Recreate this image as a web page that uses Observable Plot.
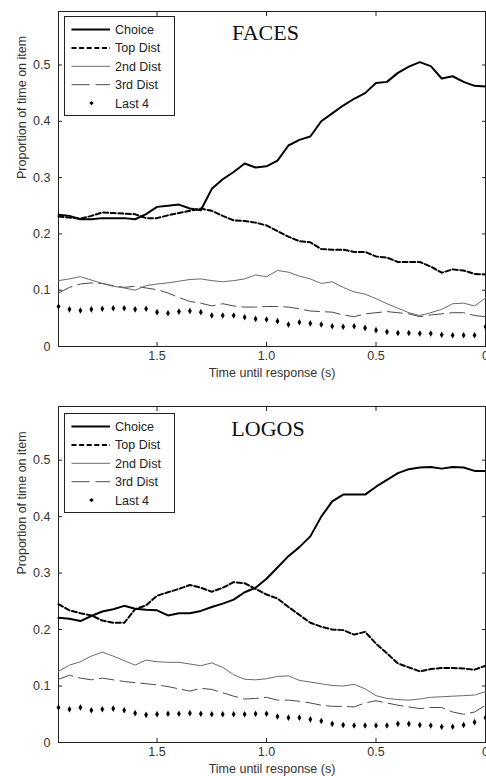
<!DOCTYPE html>
<html>
<head>
<meta charset="utf-8">
<script src="https://cdn.jsdelivr.net/npm/d3@7"></script>
<script src="https://cdn.jsdelivr.net/npm/@observablehq/plot@0.6"></script>
<style>
  body { margin: 0; background: #fff; width: 486px; overflow: hidden; }
  .panel { position: relative; }
  .legend { position: absolute; }
</style>
</head>
<body>
<div id="root"></div>
<script>
// ---- data ----
const times = [1.95, 1.90, 1.85, 1.80, 1.75, 1.70, 1.65, 1.60, 1.55, 1.50,
               1.45, 1.40, 1.35, 1.30, 1.25, 1.20, 1.15, 1.10, 1.05, 1.00,
               0.95, 0.90, 0.85, 0.80, 0.75, 0.70, 0.65, 0.60, 0.55, 0.50,
               0.45, 0.40, 0.35, 0.30, 0.25, 0.20, 0.15, 0.10, 0.05, 0.00];

const seriesNames = ["Choice", "Top Dist", "2nd Dist", "3rd Dist", "Last 4"];
const xTicks = [1.5, 1.0, 0.5, 0];
const yTicks = [0, 0.1, 0.2, 0.3, 0.4, 0.5];
const panelTitles = ["FACES", "LOGOS"];
const xLabel = "Time until response (s)";
const yLabel = "Proportion of time on item";

const facesChoice = [0.234,0.232,0.226,0.226,0.228,0.228,0.228,0.226,0.235,0.248,0.25,0.252,0.245,0.242,0.28,0.297,0.31,0.325,0.318,0.32,0.33,0.357,0.367,0.373,0.4,0.414,0.428,0.44,0.45,0.468,0.47,0.486,0.497,0.505,0.498,0.476,0.48,0.47,0.463,0.462];
const facesTop    = [0.231,0.229,0.227,0.232,0.238,0.237,0.236,0.235,0.228,0.228,0.233,0.237,0.241,0.245,0.241,0.232,0.224,0.223,0.22,0.215,0.205,0.195,0.187,0.185,0.173,0.172,0.172,0.168,0.168,0.16,0.158,0.15,0.15,0.15,0.142,0.131,0.137,0.135,0.129,0.128];
const facesSecond = [0.117,0.12,0.124,0.118,0.112,0.107,0.104,0.10,0.108,0.111,0.113,0.116,0.119,0.12,0.117,0.115,0.117,0.12,0.127,0.124,0.135,0.132,0.125,0.12,0.112,0.115,0.105,0.097,0.093,0.085,0.076,0.068,0.06,0.055,0.06,0.066,0.076,0.077,0.072,0.086];
const facesThird  = [0.095,0.105,0.111,0.113,0.112,0.108,0.105,0.107,0.104,0.101,0.095,0.087,0.08,0.077,0.072,0.076,0.072,0.07,0.07,0.071,0.071,0.07,0.067,0.063,0.062,0.061,0.056,0.053,0.058,0.06,0.062,0.06,0.058,0.053,0.056,0.058,0.06,0.06,0.055,0.053];
const facesLast   = [0.071,0.066,0.064,0.066,0.067,0.068,0.068,0.066,0.067,0.061,0.059,0.062,0.063,0.061,0.055,0.055,0.055,0.052,0.049,0.048,0.045,0.039,0.043,0.041,0.039,0.036,0.035,0.036,0.033,0.029,0.026,0.024,0.024,0.023,0.023,0.021,0.020,0.020,0.020,0.035];

const logosChoice = [0.221,0.219,0.215,0.224,0.232,0.236,0.242,0.237,0.235,0.234,0.225,0.229,0.229,0.233,0.24,0.246,0.253,0.266,0.274,0.29,0.31,0.33,0.346,0.365,0.4,0.427,0.439,0.439,0.439,0.453,0.465,0.477,0.484,0.487,0.488,0.485,0.488,0.487,0.481,0.481];
const logosTop    = [0.245,0.234,0.229,0.225,0.216,0.212,0.212,0.236,0.243,0.26,0.266,0.272,0.279,0.274,0.267,0.274,0.284,0.282,0.272,0.262,0.255,0.24,0.226,0.212,0.205,0.2,0.199,0.191,0.196,0.175,0.158,0.14,0.133,0.126,0.13,0.132,0.132,0.131,0.129,0.136];
const logosSecond = [0.126,0.137,0.143,0.153,0.16,0.153,0.145,0.137,0.146,0.143,0.142,0.142,0.139,0.136,0.141,0.133,0.12,0.112,0.111,0.113,0.117,0.118,0.11,0.107,0.104,0.101,0.1,0.103,0.095,0.083,0.078,0.076,0.075,0.077,0.08,0.081,0.082,0.083,0.084,0.09];
const logosThird  = [0.112,0.119,0.114,0.111,0.114,0.111,0.108,0.106,0.104,0.102,0.099,0.095,0.091,0.096,0.094,0.088,0.082,0.077,0.078,0.08,0.075,0.075,0.073,0.07,0.066,0.064,0.064,0.063,0.07,0.074,0.07,0.066,0.063,0.06,0.062,0.062,0.054,0.05,0.054,0.066];
const logosLast   = [0.062,0.059,0.062,0.057,0.059,0.060,0.057,0.052,0.049,0.050,0.051,0.051,0.052,0.051,0.050,0.050,0.050,0.050,0.051,0.051,0.046,0.044,0.044,0.041,0.038,0.033,0.031,0.030,0.030,0.030,0.030,0.033,0.033,0.031,0.030,0.028,0.028,0.031,0.036,0.044];

// ---- styles ----
const FONT = "'Liberation Sans', Arial, Helvetica, sans-serif";
const lineStyles = {
  "Choice":   {stroke: "#000", strokeWidth: 2, strokeDasharray: null},
  "Top Dist": {stroke: "#000", strokeWidth: 2, strokeDasharray: "5,2.6"},
  "2nd Dist": {stroke: "#6a6a6a", strokeWidth: 1, strokeDasharray: null},
  "3rd Dist": {stroke: "#4a4a4a", strokeWidth: 1, strokeDasharray: "15,6"}
};
const fmt = d => d === 0 ? "0" : d.toFixed(1);

function buildTable(arrays) {
  const rows = [];
  seriesNames.forEach((s, i) => {
    times.forEach((t, j) => rows.push({series: s, t, v: arrays[i][j]}));
  });
  return rows;
}

function makePanel(title, arrays, layout) {
  const data = buildTable(arrays);
  const marks = [
    Plot.frame({stroke: "#222", strokeWidth: 1}),
    // tick labels
    Plot.axisX({anchor: "bottom", ticks: xTicks, tickSize: 0, tickPadding: 5, tickFormat: fmt, label: null, fontSize: 12.5, fill: "#333"}),
    Plot.axisY({anchor: "left", ticks: yTicks, tickSize: 0, tickPadding: 8, tickFormat: fmt, label: null, fontSize: 12.5, fill: "#333"}),
    // inward ticks on all four sides
    Plot.axisX({anchor: "bottom", ticks: xTicks, tickSize: 4, dy: -4, tickFormat: () => "", label: null}),
    Plot.axisX({anchor: "top", ticks: xTicks, tickSize: 4, dy: 4, tickFormat: () => "", label: null}),
    Plot.axisY({anchor: "left", ticks: yTicks, tickSize: 4, dx: 4, tickFormat: () => "", label: null}),
    Plot.axisY({anchor: "right", ticks: yTicks, tickSize: 4, dx: -4, tickFormat: () => "", label: null}),
  ];
  ["3rd Dist", "2nd Dist", "Top Dist", "Choice"].forEach(s => {
    const st = lineStyles[s];
    marks.push(Plot.line(data.filter(d => d.series === s), {
      x: "t", y: "v", stroke: st.stroke, strokeWidth: st.strokeWidth,
      strokeDasharray: st.strokeDasharray, strokeLinejoin: "round"
    }));
  });
  marks.push(Plot.dot(data.filter(d => d.series === "Last 4"), {
    x: "t", y: "v", symbol: "diamond", r: 2, fill: "#000", stroke: "none"
  }));
  marks.push(Plot.text([title], {frameAnchor: "top", text: d => d, dx: layout.titleDx, dy: layout.titleDy,
    lineAnchor: "middle", fontFamily: "'Liberation Serif', 'Times New Roman', serif", fontSize: 22, fill: "#111"}));
  marks.push(Plot.text([xLabel], {frameAnchor: "bottom", text: d => d, dy: layout.xLabelDy,
    lineAnchor: "middle", fontSize: 12.5, fill: "#333"}));
  marks.push(Plot.text([yLabel], {frameAnchor: "left", text: d => d, dx: -36.5, rotate: -90,
    lineAnchor: "middle", fontSize: 12.5, fill: "#333"}));

  const svg = Plot.plot({
    width: 486,
    height: layout.height,
    marginLeft: 58,
    marginRight: 1,
    marginTop: layout.marginTop,
    marginBottom: layout.marginBottom,
    x: {domain: [1.95, 0], range: [58, 485]},
    y: {domain: [0, 0.595]},
    style: {fontFamily: FONT, fontSize: "12.5px", color: "#222", background: "#fff", overflow: "visible"},
    marks
  });

  const wrap = document.createElement("div");
  wrap.className = "panel";
  wrap.style.width = "486px";
  wrap.style.height = layout.height + "px";
  wrap.appendChild(svg);

  // legend (inside the frame, upper left)
  const lg = d3.create("svg")
    .attr("class", "legend")
    .attr("width", 112).attr("height", 102)
    .style("left", "64px").style("top", layout.legendTop + "px")
    .style("font-family", FONT);
  lg.append("rect").attr("x", 0.5).attr("y", 0.5).attr("width", 110).attr("height", 99)
    .attr("fill", "#fff").attr("stroke", "#222");
  seriesNames.forEach((s, i) => {
    const y = 13.5 + i * 18.4;
    if (s === "Last 4") {
      lg.append("path").attr("d", d3.symbol(d3.symbolDiamond2, 12)()).attr("transform", `translate(27.5,${y})`).attr("fill", "#000");
    } else {
      const st = lineStyles[s];
      lg.append("line").attr("x1", 7.5).attr("x2", 46).attr("y1", y).attr("y2", y)
        .attr("stroke", st.stroke).attr("stroke-width", st.strokeWidth)
        .attr("stroke-dasharray", s === "3rd Dist" ? "18,6" : st.strokeDasharray);
    }
    lg.append("text").attr("x", 51).attr("y", y).attr("dy", "0.36em")
      .attr("font-size", 12.5).attr("fill", "#222").text(s);
  });
  wrap.appendChild(lg.node());
  return wrap;
}

const root = document.getElementById("root");
root.appendChild(makePanel(panelTitles[0],
  [facesChoice, facesTop, facesSecond, facesThird, facesLast],
  {height: 390, marginTop: 11, marginBottom: 44, titleDx: -6.5, titleDy: 21.5, xLabelDy: 26.5, legendTop: 16}));
root.appendChild(makePanel(panelTitles[1],
  [logosChoice, logosTop, logosSecond, logosThird, logosLast],
  {height: 386, marginTop: 16, marginBottom: 34, titleDx: -4, titleDy: 22.5, xLabelDy: 26.5, legendTop: 23}));
</script>
</body>
</html>
